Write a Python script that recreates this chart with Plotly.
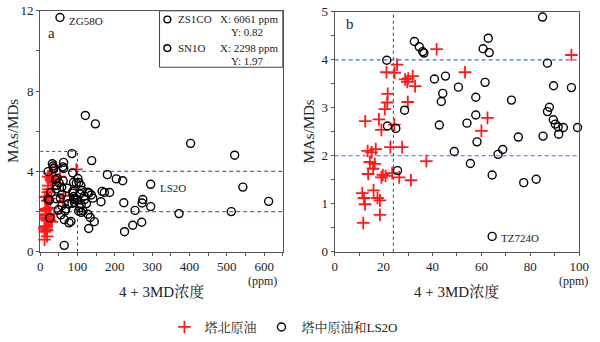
import plotly.graph_objects as go

# ---- data -------------------------------------------------------------
# Tazhong oils and LS2O (open circles): 4+3MD concentration (ppm), MAs/MDs
TZ_X = [85.0, 32.6, 34.6, 36.0, 36.5, 62.8, 60.7, 63.2, 21.3, 87.0,
        40.8, 45.3, 50.6, 61.5, 44.2, 43.6, 57.7, 72.3, 89.5, 96.8,
        87.8, 87.0, 28.6, 57.7, 21.6, 25.0, 42.8, 54.1, 89.4, 90.2,
        91.4, 93.5, 99.3, 91.6, 75.1, 85.2, 58.2, 48.9, 66.8, 68.7,
        55.5, 64.4, 77.3, 82.4, 25.7, 64.4,
        53, 121, 148, 138, 403, 521, 180, 204, 221, 296,
        543, 101, 104, 109, 112, 106, 127, 131, 137, 166,
        172, 186, 119, 141, 118, 163, 224, 275, 273, 296,
        106, 115, 110, 124, 128, 134, 103, 110, 254, 372,
        512, 612, 145, 272, 248, 226, 130]
TZ_Y = [4.89, 4.38, 4.27, 4.17, 4.14, 4.45, 4.23, 4.15, 3.99, 3.93,
        3.60, 3.66, 3.43, 3.53, 3.30, 3.13, 3.22, 3.16, 3.46, 3.42,
        3.01, 2.92, 2.95, 2.85, 2.62, 2.57, 2.64, 2.68, 2.75, 2.66,
        2.60, 2.59, 2.59, 2.45, 2.39, 2.41, 2.29, 2.09, 2.03, 2.13,
        1.84, 1.60, 1.44, 1.51, 1.69, 0.32,
        11.67, 6.79, 6.37, 4.54, 5.40, 4.81, 3.84, 3.63, 3.54, 3.36,
        3.22, 3.65, 3.45, 3.30, 3.05, 2.88, 2.97, 2.93, 2.83, 3.01,
        2.95, 2.95, 2.60, 2.67, 2.78, 2.49, 2.44, 2.60, 2.43, 2.25,
        2.19, 2.03, 2.35, 2.40, 1.87, 1.71, 2.03, 1.96, 2.06, 1.90,
        2.00, 2.51, 1.50, 1.47, 1.32, 1.00, 1.16]

# Tabei oils (red crosses)
TB_X = [41.7, 96.8, 25.5, 21.2, 24.5, 53.3, 31.9, 28.8, 30.1, 29.7,
        32.9, 21.7, 21.5, 29.9, 20.5, 12.5, 18.1, 62.5, 24.4, 19.1,
        60.0, 13.5, 15.1, 16.8, 22.8, 27.6, 14.4, 16.4, 15.7, 13.7,
        19.7, 19.1, 20.8, 23.5, 26.4, 31.2, 37.5, 15.9, 11.3, 12.0,
        12.4, 17.5, 18.5, 18.5, 11.7]
TB_Y = [4.22, 4.10, 3.90, 3.74, 3.73, 3.74, 3.66, 3.59, 3.61, 3.54,
        3.45, 3.29, 3.11, 3.12, 2.97, 2.72, 2.76, 2.79, 2.65, 2.54,
        2.52, 2.10, 2.07, 2.14, 2.18, 2.18, 1.87, 1.83, 1.73, 1.62,
        1.60, 1.55, 1.58, 1.64, 1.55, 1.49, 1.89, 1.28, 1.22, 1.12,
        0.99, 1.12, 1.07, 0.77, 0.60]

# labelled samples
LABELS_A = {"ZG58O": (53, 11.67), "LS2O": (296, 3.36)}
LABELS_B = {"TZ724O": (64.4, 0.32)}
# samples far outside panel a, listed in its box
OUTLIERS = [("ZS1CO", 6061, 0.82), ("SN1O", 2298, 1.97)]

REF_LINES = [2, 4]          # MAs/MDs reference levels
ZOOM_X, ZOOM_Y = 100, 5     # extent of panel b inside panel a
CUT_B = 24                  # 4+3MD threshold in panel b
RANGE_A = ([0, 650], [0, 12])
RANGE_B = ([0, 100], [0, 5])

LEGEND_TB = "塔北原油"
LEGEND_TZ = "塔中原油和LS2O"
X_TITLE = "4 + 3MD浓度"
Y_TITLE = "MAs/MDs"

# ---- styling ----------------------------------------------------------
W, H = 600, 342
SERIF = "Liberation Serif, Noto Serif CJK SC, Noto Sans CJK SC, serif"
INK = "#222222"
FRAME = "#555555"
BLUE = "#3d6cf0"
RED = "#ff1a1a"


def pxx(x):
    return x / W


def pxy(y):
    return 1 - y / H


circle = dict(symbol="circle-open", size=8, color="black", line=dict(width=1.4, color="black"))
cross = dict(symbol="cross-thin", size=9, color=RED, line=dict(width=1.8, color=RED))

fig = go.Figure()

# panel a
fig.add_trace(go.Scatter(x=TB_X, y=TB_Y, mode="markers", marker=cross, name=LEGEND_TB,
                         xaxis="x", yaxis="y", cliponaxis=False))
fig.add_trace(go.Scatter(x=TZ_X, y=TZ_Y, mode="markers", marker=circle, name=LEGEND_TZ,
                         xaxis="x", yaxis="y", cliponaxis=False))


# panel b: only samples inside its window
def inside(xs, ys, rng):
    pts = [(a, b) for a, b in zip(xs, ys)
           if rng[0][0] <= a <= rng[0][1] and rng[1][0] <= b <= rng[1][1]]
    return [p[0] for p in pts], [p[1] for p in pts]


bx, by = inside(TB_X, TB_Y, RANGE_B)
fig.add_trace(go.Scatter(x=bx, y=by, mode="markers", marker=cross, showlegend=False,
                         xaxis="x2", yaxis="y2", cliponaxis=False))
bx, by = inside(TZ_X, TZ_Y, RANGE_B)
fig.add_trace(go.Scatter(x=bx, y=by, mode="markers", marker=circle, showlegend=False,
                         xaxis="x2", yaxis="y2", cliponaxis=False))

# ---- axes -------------------------------------------------------------
def axis(rng, dtick, minor, domain, anchor):
    return dict(range=rng, dtick=dtick, tick0=0, domain=domain, anchor=anchor,
                showline=True, linecolor=FRAME, linewidth=1, mirror=True,
                ticks="outside", ticklen=3, tickcolor=FRAME, tickwidth=1,
                minor=dict(dtick=minor, ticks="outside", ticklen=3, tickcolor=FRAME),
                showgrid=False, zeroline=False, ticklabeloverflow="allow",
                tickfont=dict(family=SERIF, size=13, color=INK))


YDOM = [pxy(256), pxy(4)]
fig.update_layout(
    xaxis=axis(RANGE_A[0], 100, 50, [pxx(38), pxx(286)], "y"),
    yaxis=axis(RANGE_A[1], 4, 2, YDOM, "x"),
    xaxis2=axis(RANGE_B[0], 20, 10, [pxx(339), pxx(589)], "y2"),
    yaxis2=axis(RANGE_B[1], 1, 0.5, [pxy(256), pxy(5)], "x2"),
)

# ---- reference lines ----------------------------------------------------
shapes = []
for xr, yr in (("x domain", "y"), ("x2 domain", "y2")):
    for lvl in REF_LINES:
        shapes.append(dict(type="line", xref=xr, yref=yr, x0=0, x1=1, y0=lvl, y1=lvl,
                           line=dict(color=BLUE, width=1.2, dash="4px,3px"), layer="below"))
dot = dict(color="#444444", width=1, dash="dot")
shapes.append(dict(type="line", xref="x", yref="y", x0=0, x1=ZOOM_X, y0=ZOOM_Y, y1=ZOOM_Y,
                   line=dot, layer="below"))
shapes.append(dict(type="line", xref="x", yref="y", x0=ZOOM_X, x1=ZOOM_X, y0=0, y1=ZOOM_Y,
                   line=dot, layer="below"))
shapes.append(dict(type="line", xref="x2", yref="y2 domain", x0=CUT_B, x1=CUT_B, y0=0, y1=1,
                   line=dot, layer="below"))

# box listing off-scale samples
shapes.append(dict(type="rect", xref="paper", yref="paper",
                   x0=pxx(160), x1=pxx(286), y0=pxy(63), y1=pxy(4),
                   line=dict(color="#444444", width=1), fillcolor="white"))

annotations = []
for i, (name, xv, yv) in enumerate(OUTLIERS):
    top = 13 + 30 * i
    shapes.append(dict(type="circle", xref="paper", yref="paper",
                       x0=pxx(164.5), x1=pxx(171.5), y0=pxy(top + 3.5), y1=pxy(top - 3.5),
                       line=dict(color="black", width=1.4)))
    annotations.append(dict(x=pxx(177), y=pxy(top), text=name))
    annotations.append(dict(x=pxx(220), y=pxy(top), text=f"X: {xv} ppm"))
    annotations.append(dict(x=pxx(231), y=pxy(top + 13), text=f"Y: {yv}"))
for a in annotations:
    a.update(xref="paper", yref="paper", xanchor="left", yanchor="middle", showarrow=False,
             font=dict(family=SERIF, size=11, color=INK))

# sample labels
for lbl, (xv, yv) in LABELS_A.items():
    annotations.append(dict(x=xv, y=yv, xref="x", yref="y", text=lbl, xanchor="left",
                            yanchor="middle", xshift=7, yshift=-4, showarrow=False,
                            font=dict(family=SERIF, size=11, color=INK)))
for lbl, (xv, yv) in LABELS_B.items():
    annotations.append(dict(x=xv, y=yv, xref="x2", yref="y2", text=lbl, xanchor="left",
                            yanchor="middle", xshift=7, yshift=-2, showarrow=False,
                            font=dict(family=SERIF, size=11, color=INK)))


def label(x, y, text, size=15, angle=0):
    annotations.append(dict(x=pxx(x), y=pxy(y), xref="paper", yref="paper", text=text,
                            showarrow=False, textangle=angle, xanchor="center", yanchor="middle",
                            font=dict(family=SERIF, size=size, color=INK)))


label(50, 27, "a", 15)
label(355, 18, "b", 15)
label(162, 298, X_TITLE, 15)
label(464, 298, X_TITLE, 15)
label(265, 287, "(ppm)", 12)
label(583, 287, "(ppm)", 12)
label(11, 130, Y_TITLE, 15, -90)
label(313, 130, Y_TITLE, 15, -90)

fig.update_layout(
    width=W, height=H, autosize=False,
    margin=dict(l=0, r=0, t=0, b=0),
    paper_bgcolor="white", plot_bgcolor="white",
    font=dict(family=SERIF, size=13, color=INK),
    shapes=shapes, annotations=annotations,
    legend=dict(orientation="h", x=pxx(165), y=pxy(335), xanchor="left", yanchor="middle",
                font=dict(family=SERIF, size=13, color=INK), bgcolor="rgba(0,0,0,0)",
                itemwidth=30),
)

fig.write_html("out.html")
